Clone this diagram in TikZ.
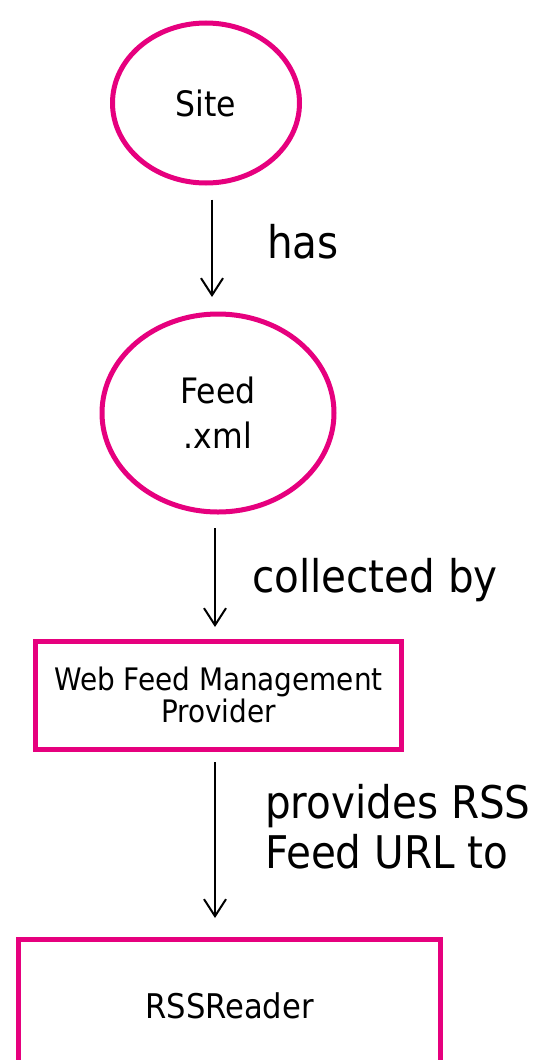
\documentclass[tikz,border=0pt]{standalone}
\usepackage{fontspec}
\setmainfont{DejaVu Sans Condensed}
\usetikzlibrary{arrows.meta}
\usetikzlibrary{shapes.geometric}
\definecolor{rosered}{RGB}{230,0,126}

\begin{document}
\begin{tikzpicture}[x=1pt,y=-1pt,
    thing/.style={draw=rosered, line width=5pt, ellipse, inner sep=0pt, font=\fontsize{35}{45}\selectfont, align=center},
    block/.style={draw=rosered, line width=5pt, rectangle, inner sep=0pt, font=\fontsize{31}{32}\selectfont, align=center},
    flow/.style={-{Straight Barb[length=17pt,width=22pt,line width=2pt]}, line width=2pt},
    verb/.style={anchor=base west, inner sep=0pt, align=left, font=\fontsize{45}{50}\selectfont}]
        \useasboundingbox (0,0) rectangle (544,1060);
        \node[thing, minimum width=187pt, minimum height=160pt] (site) at (206,103) {Site};
        \node[thing, minimum width=232pt, minimum height=198pt] (feed) at (218,413) {Feed\\.xml};
        \node[block, minimum width=366pt, minimum height=108pt] (wfmp) at (218.5,695) {Web Feed Management\\Provider};
        \node[block, minimum width=422pt, minimum height=132pt, font=\fontsize{34}{40}\selectfont] (reader) at (229.5,1005.5) {RSSReader};
        \draw[flow] ([xshift=6pt,yshift=-14pt]site.south) -- ([xshift=-6pt,yshift=14.5pt]feed.north);
        \draw[flow] ([xshift=-3pt,yshift=-13.5pt]feed.south) -- ([xshift=-3.5pt,yshift=11.5pt]wfmp.north);
        \draw[flow] ([xshift=-3.5pt,yshift=-10.5pt]wfmp.south) -- ([xshift=-14.5pt,yshift=19pt]reader.north);
        \node[verb] (has) at (267,258) {has};
        \node[verb] (collected) at (252,592) {collected by};
        \node[verb] (provides) at (265,868) {provides RSS\\Feed URL to};
\end{tikzpicture}
\end{document}
